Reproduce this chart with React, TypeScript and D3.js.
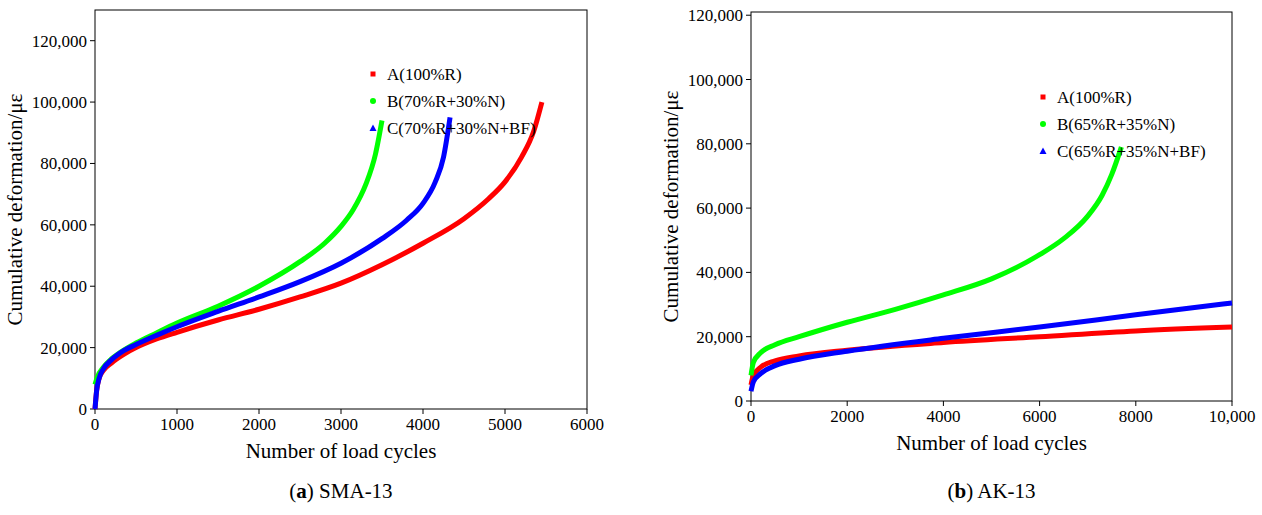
import * as d3 from 'd3';
import React from 'react';

type P = [number, number];

// panel (a) SMA-13
const smaA: P[] = [[0, 0], [20, 6000], [50, 10000], [100, 12500], [200, 15000], [350, 17800], [500, 20000], [750, 22800], [1000, 25000], [1500, 29000], [2000, 32500], [2500, 36500], [3000, 41000], [3500, 47000], [4000, 54000], [4500, 62000], [4800, 68500], [5000, 74000], [5200, 82000], [5350, 90500], [5450, 100000]];
const smaB: P[] = [[0, 8000], [30, 10500], [100, 13500], [200, 16300], [300, 18300], [500, 21500], [750, 24800], [1000, 28000], [1500, 33500], [2000, 40000], [2500, 48000], [2800, 54000], [3000, 59500], [3150, 65000], [3300, 73000], [3420, 83000], [3500, 94000]];
const smaC: P[] = [[0, 0], [20, 6000], [50, 10000], [100, 13000], [200, 16000], [350, 19000], [500, 21000], [750, 24000], [1000, 26800], [1500, 31800], [2000, 36500], [2500, 41500], [3000, 47500], [3500, 55500], [3800, 61500], [4000, 67000], [4150, 74000], [4250, 82000], [4330, 95000]];
// panel (b) AK-13
const akA: P[] = [[0, 5000], [50, 8000], [200, 10500], [500, 12500], [1000, 14000], [2000, 15800], [4000, 18200], [6000, 20000], [8000, 21800], [10000, 23000]];
const akB: P[] = [[0, 8000], [50, 12000], [200, 15000], [500, 17500], [1000, 20000], [2000, 24500], [3000, 28500], [4000, 33000], [5000, 38000], [6000, 45500], [6500, 50500], [7000, 57500], [7300, 64000], [7500, 70500], [7700, 79000]];
const akC: P[] = [[0, 3000], [50, 6000], [200, 8500], [500, 11000], [1000, 13000], [2000, 15500], [4000, 19500], [6000, 23000], [8000, 26800], [10000, 30500]];

const legendA = ['A(100%R)', 'B(70%R+30%N)', 'C(70%R+30%N+BF)'];
const legendB = ['A(100%R)', 'B(65%R+35%N)', 'C(65%R+35%N+BF)'];
const colors = ['#ff0000', '#00ff00', '#0000ff'];
const font = "'Liberation Serif', 'DejaVu Serif', serif";

const fmt = (v: number) => (v === 0 ? '0' : d3.format(',')(v));

function Panel(props: {
  left: number; right: number; top: number; bottom: number;
  xMax: number; xTicks: number[]; yMax: number; yTicks: number[];
  xFmt: (v: number) => string; series: P[][]; legend: string[]; lx: number; ly: number;
  label: string; name: string;
}) {
  const x = d3.scaleLinear().domain([0, props.xMax]).range([props.left, props.right]);
  const y = d3.scaleLinear().domain([0, props.yMax]).range([props.bottom, props.top]);
  const line = d3.line<P>().x((d) => x(d[0])).y((d) => y(d[1])).curve(d3.curveMonotoneX);
  const cx = (props.left + props.right) / 2;
  return (
    <g style={{ fontFamily: font }} fill="#000">
      <rect x={props.left} y={props.top} width={props.right - props.left} height={props.bottom - props.top} fill="none" stroke="#000" />
      {props.xTicks.map((t) => (
        <g key={'x' + t}>
          <line x1={x(t)} x2={x(t)} y1={props.bottom} y2={props.bottom + 5} stroke="#000" />
          <text x={x(t)} y={props.bottom + 21} textAnchor="middle" fontSize={17}>{props.xFmt(t)}</text>
        </g>
      ))}
      {props.yTicks.map((t) => (
        <g key={'y' + t}>
          <line x1={props.left - 5} x2={props.left} y1={y(t)} y2={y(t)} stroke="#000" />
          <text x={props.left - 8} y={y(t) + 6} textAnchor="end" fontSize={17}>{fmt(t)}</text>
        </g>
      ))}
      {props.series.map((s, i) => (
        <path key={i} d={line(s) || ''} fill="none" stroke={colors[i]} strokeWidth={5} />
      ))}
      {props.legend.map((l, i) => {
        const yy = props.ly + i * 27;
        return (
          <g key={l}>
            {i === 0 && <rect x={props.lx - 2.5} y={yy - 2.5} width={5} height={5} fill={colors[0]} />}
            {i === 1 && <circle cx={props.lx} cy={yy} r={3} fill={colors[1]} />}
            {i === 2 && <path d={`M${props.lx - 3.5},${yy + 3}L${props.lx + 3.5},${yy + 3}L${props.lx},${yy - 3.5}Z`} fill={colors[2]} />}
            <text x={props.lx + 14} y={yy + 6} fontSize={17}>{l}</text>
          </g>
        );
      })}
      <text x={cx} y={props.bottom + 49} textAnchor="middle" fontSize={21}>Number of load cycles</text>
      <text transform={`translate(${props.left - 73},${(props.top + props.bottom) / 2}) rotate(-90)`} textAnchor="middle" fontSize={21}>Cumulative deformation/με</text>
      <text x={cx} y={498} textAnchor="middle" fontSize={21}>
        (<tspan fontWeight="bold">{props.label}</tspan>) {props.name}
      </text>
    </g>
  );
}

export default function App() {
  return (
    <svg width={1262} height={515} style={{ position: 'absolute', left: 0, top: 0, background: '#fff', fontFamily: font }}>
      <Panel left={95} right={587} top={10} bottom={409} xMax={6000} xTicks={[0, 1000, 2000, 3000, 4000, 5000, 6000]}
        yMax={130000} yTicks={[0, 20000, 40000, 60000, 80000, 100000, 120000]} xFmt={(v) => String(v)}
        series={[smaA, smaB, smaC]} legend={legendA} lx={373} ly={74} label="a" name="SMA-13" />
      <Panel left={751} right={1232} top={12} bottom={401} xMax={10000} xTicks={[0, 2000, 4000, 6000, 8000, 10000]}
        yMax={121000} yTicks={[0, 20000, 40000, 60000, 80000, 100000, 120000]} xFmt={(v) => (v === 10000 ? '10,000' : String(v))}
        series={[akA, akB, akC]} legend={legendB} lx={1043} ly={97} label="b" name="AK-13" />
    </svg>
  );
}
